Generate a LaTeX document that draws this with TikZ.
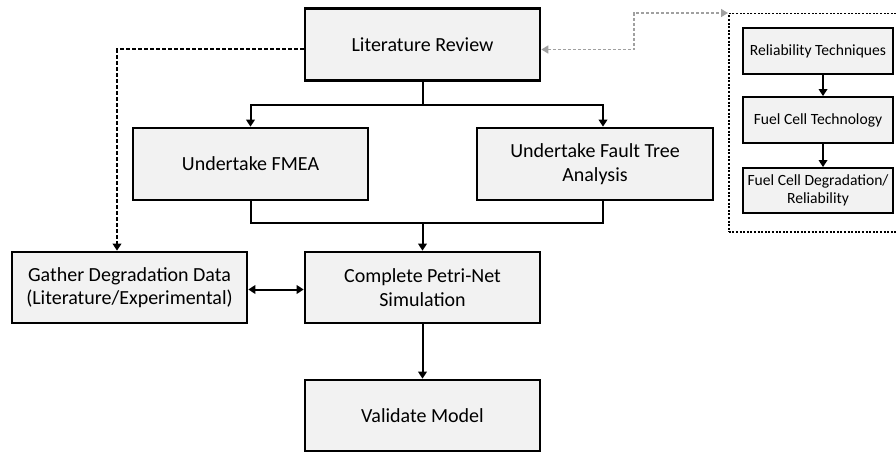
\documentclass[tikz,border=0pt]{standalone}
\usepackage{fontspec}
\setmainfont{Carlito}
\usetikzlibrary{arrows.meta}
\begin{document}
\begin{tikzpicture}[x=1pt,y=-1pt,
  mainbox/.style={draw=black, line width=2.6pt, fill=boxgray, minimum width=235pt,
    minimum height=72pt, align=center, inner sep=2pt,
    font=\fontsize{20}{23.5}\selectfont},
  subbox/.style={draw=black, line width=1.8pt, fill=boxgray, minimum width=150pt,
    minimum height=46pt, align=center, inner sep=2pt,
    font=\fontsize{15.6}{18.3}\selectfont},
  panel/.style={draw=black, line width=1.5pt, dash pattern=on 2pt off 1.6pt,
    minimum width=180pt, minimum height=218pt, inner sep=0pt},
  link/.style={draw=black, line width=2pt},
  arr/.style={link, -{Triangle[length=7pt,width=8.5pt]}},
  dblarr/.style={link, {Triangle[length=7pt,width=8.5pt]}-{Triangle[length=7pt,width=8.5pt]}},
  dasharr/.style={draw=black, line width=2pt, dash pattern=on 4pt off 2pt,
    -{Triangle[length=7pt,width=8.5pt]}},
  grayarr/.style={draw=linkgray, line width=1.5pt, dash pattern=on 3pt off 2pt,
    {Triangle[length=7pt,width=8pt]}-{Triangle[length=7pt,width=8pt]}}
]
\definecolor{boxgray}{HTML}{F2F2F2}
\definecolor{linkgray}{HTML}{A0A0A0}
\useasboundingbox (0,0) rectangle (896,452);

% main flow
\node[mainbox] (lr) at (422.5,44.5) {Literature Review};
\node[mainbox] (fmea) at (250.5,164) {Undertake FMEA};
\node[mainbox, minimum width=236pt] (fta) at (595,164) {Undertake Fault Tree\\Analysis};
\node[mainbox, minimum height=71pt] (gather) at (129.5,287.5) {Gather Degradation Data\\(Literature/Experimental)};
\node[mainbox, minimum height=71pt] (petri) at (422.5,287.5) {Complete Petri-Net\\Simulation};
\node[mainbox, minimum height=71pt] (valid) at (422.5,415.5) {Validate Model};

% literature review topics
\node[panel, anchor=north west] (panel) at (728,13) {};
\node[subbox] (rt) at (818,51) {Reliability Techniques};
\node[subbox] (fct) at (818,120) {Fuel Cell Technology};
\node[subbox, minimum height=45pt] (fcd) at (818,190.5) {Fuel Cell Degradation/\\Reliability};

% connectors
\coordinate (split) at (422.5,105);
\coordinate (merge) at (422.5,223);
\draw[link] (lr.south) -- (split);
\draw[arr] (split) -| (fmea.north);
\draw[arr] (split) -| ([xshift=8pt]fta.north);
\draw[link] (fmea.south) |- (merge);
\draw[link] (merge) -| ([xshift=8pt]fta.south);
\draw[arr] (merge) -- (petri.north);
\draw[dblarr] ([yshift=-2pt]gather.east) -- ([yshift=-2pt]petri.west);
\draw[arr] (petri.south) -- (valid.north);
\draw[dasharr] ([yshift=-5pt]lr.west) -| ([xshift=-12.5pt]gather.north);
\draw[grayarr] ([yshift=-5pt]lr.east) -| ([xshift=-94pt]panel.north west) -- (panel.north west);
\draw[arr] ([xshift=5pt]rt.south) -- ([xshift=5pt]fct.north);
\draw[arr] ([xshift=5pt]fct.south) -- ([xshift=5pt]fcd.north);
\end{tikzpicture}
\end{document}
